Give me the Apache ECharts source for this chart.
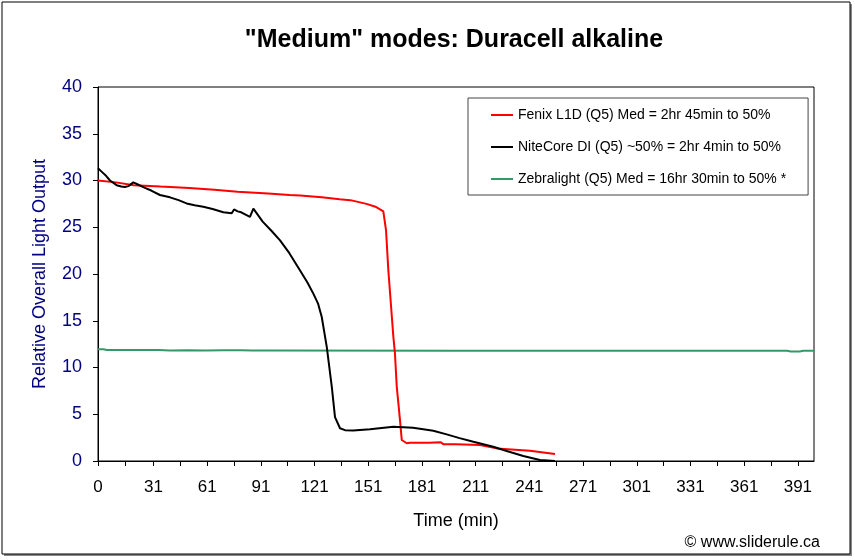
<!DOCTYPE html>
<html>
<head>
<meta charset="utf-8">
<script src="https://cdn.jsdelivr.net/npm/echarts@6/dist/echarts.min.js"></script>
<style>
  html, body { margin: 0; padding: 0; background: #fff; }
  #chart { width: 855px; height: 560px; }
</style>
</head>
<body>
<div id="chart"></div>
<script>
// ---- Data ----
var titleText = '"Medium" modes: Duracell alkaline';
var seriesNames = [
  'Fenix L1D (Q5) Med = 2hr 45min to 50%',
  'NiteCore DI (Q5) ~50% = 2hr 4min to 50%',
  'Zebralight (Q5) Med = 16hr 30min to 50% *'
];

var fenixT = [0, 10, 20, 35, 51, 65, 78, 95, 107, 113, 125, 135, 141, 150, 155, 159.4, 160.9, 162.2, 165, 165.9, 166.9, 168.7, 169.7, 172.5, 174.3, 185, 191.5, 192.9, 200, 213.4, 222.7, 241.3, 255.3];
var fenixV = [30.0, 29.8, 29.5, 29.35, 29.2, 29.0, 28.8, 28.6, 28.45, 28.4, 28.2, 28.0, 27.9, 27.5, 27.2, 26.7, 24.7, 20.4, 13.3, 11.5, 7.95, 4.4, 2.25, 1.9, 1.95, 1.95, 2.0, 1.8, 1.8, 1.7, 1.35, 1.1, 0.75];

var niteT = [0, 2, 4.5, 6.7, 10.4, 13, 15, 17, 19.7, 22, 25.3, 30, 34.6, 40.2, 45, 49.5, 54, 58.8, 64, 70, 74.7, 76, 78, 80, 84.9, 86.8, 92, 97, 101.7, 107, 112.8, 117, 120.3, 123, 125, 127.8, 130.6, 132.4, 135.2, 138, 142.6, 152, 165, 170.6, 176, 181.7, 187.3, 194.8, 202, 209.7, 220.8, 228.3, 237.6, 246.9, 255.3];
var niteV = [31.3, 30.95, 30.5, 30.0, 29.5, 29.35, 29.3, 29.4, 29.8, 29.6, 29.3, 28.9, 28.45, 28.2, 27.9, 27.55, 27.35, 27.2, 26.95, 26.6, 26.5, 26.9, 26.7, 26.6, 26.1, 27.0, 25.6, 24.6, 23.6, 22.2, 20.4, 19.1, 17.9, 16.8, 15.4, 12.2, 7.95, 4.7, 3.5, 3.3, 3.25, 3.4, 3.67, 3.62, 3.56, 3.4, 3.24, 2.85, 2.45, 2.06, 1.53, 1.07, 0.53, 0.1, 0];

var zebraT = [0, 3, 5, 34, 40, 50, 60, 70, 80, 86, 100, 200, 300, 385, 387, 392, 394, 400];
var zebraV = [11.95, 11.95, 11.88, 11.87, 11.82, 11.85, 11.82, 11.85, 11.84, 11.82, 11.82, 11.8, 11.8, 11.8, 11.72, 11.72, 11.8, 11.8];

var xLabelValues = [0, 31, 61, 91, 121, 151, 181, 211, 241, 271, 301, 331, 361, 391];
var xTickValues = [0, 15, 31, 46, 61, 76, 91, 106, 121, 136, 151, 166, 181, 196, 211, 226, 241, 256, 271, 286, 301, 316, 331, 346, 361, 376, 391];

function zip(a, b) { return a.map(function (v, i) { return [v, b[i]]; }); }

var FONT = '"Liberation Sans", Arial, sans-serif';
var chart = echarts.init(document.getElementById('chart'), null, { renderer: 'canvas' });

chart.setOption({
  animation: false,
  backgroundColor: '#ffffff',
  title: {
    text: titleText,
    left: 449,
    textAlign: 'center',
    top: 23,
    textStyle: { fontFamily: FONT, fontSize: 25, fontWeight: 'bold', color: '#000' }
  },
  grid: {
    left: 98, top: 87, right: 41, bottom: 99,
    show: true, borderColor: '#000', borderWidth: 1, backgroundColor: '#fff'
  },
  legend: {
    orient: 'vertical',
    left: 468, top: 98,
    padding: [10, 22, 9, 22],
    itemWidth: 22, itemHeight: 14, itemGap: 18,
    backgroundColor: '#fff',
    borderColor: '#444', borderWidth: 1,
    itemStyle: { opacity: 0 },
    textStyle: { fontFamily: FONT, fontSize: 14, color: '#000' },
    data: seriesNames
  },
  xAxis: {
    type: 'value', min: 0, max: 400,
    name: 'Time (min)', nameLocation: 'middle', nameGap: 51,
    nameTextStyle: { fontFamily: FONT, fontSize: 18, color: '#000' },
    axisLine: { show: true, lineStyle: { color: '#000', width: 1 } },
    axisTick: { show: true, inside: false, length: 5, customValues: xTickValues, lineStyle: { color: '#000' } },
    axisLabel: { customValues: xLabelValues, margin: 18, fontFamily: FONT, fontSize: 17, color: '#000' },
    splitLine: { show: false }
  },
  yAxis: {
    type: 'value', min: 0, max: 40, interval: 5,
    name: 'Relative Overall Light Output', nameLocation: 'middle', nameGap: 49,
    nameTextStyle: { fontFamily: FONT, fontSize: 18, color: '#000080' },
    axisLine: { show: true, lineStyle: { color: '#000', width: 1 } },
    axisTick: { show: true, inside: false, length: 5, lineStyle: { color: '#000' } },
    axisLabel: { margin: 16, fontFamily: FONT, fontSize: 18, color: '#000080' },
    splitLine: { show: false }
  },
  series: [
    { name: seriesNames[0], type: 'line', symbol: 'none', data: zip(fenixT, fenixV),
      lineStyle: { color: '#ff0000', width: 2 }, itemStyle: { color: '#ff0000' }, z: 3 },
    { name: seriesNames[1], type: 'line', symbol: 'none', data: zip(niteT, niteV),
      lineStyle: { color: '#000000', width: 2 }, itemStyle: { color: '#000000' }, z: 3 },
    { name: seriesNames[2], type: 'line', symbol: 'none', data: zip(zebraT, zebraV),
      lineStyle: { color: '#339966', width: 2 }, itemStyle: { color: '#339966' }, z: 2 }
  ],
  graphic: [
    { type: 'rect', z: -10, silent: true,
      shape: { x: 4, y: 4, width: 848, height: 552 },
      style: { fill: '#888', stroke: null } },
    { type: 'rect', z: -9, silent: true,
      shape: { x: 2, y: 2, width: 848, height: 552 },
      style: { fill: '#fff', stroke: '#000', lineWidth: 1 } },
    { type: 'text', z: 10, silent: true,
      style: { text: '\u00A9 www.sliderule.ca', x: 820, y: 543, align: 'right', verticalAlign: 'middle',
               fontFamily: FONT, fontSize: 16, fill: '#000' } }
  ]
});
</script>
</body>
</html>
